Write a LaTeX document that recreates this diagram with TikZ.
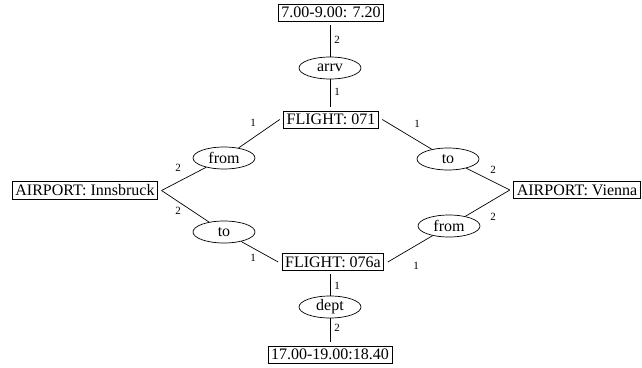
\documentclass[tikz,border=0pt]{standalone}
\usepackage{fontspec}
\setmainfont{Liberation Serif}
\usetikzlibrary{shapes.geometric}
\begin{document}
\begin{tikzpicture}[x=1pt,y=-1pt,
  every node/.style={font=\fontsize{16}{18}\selectfont},
  box/.style={draw,rectangle,line width=0.7pt,inner xsep=3pt,inner ysep=3pt,outer sep=4pt},
  rel/.style={draw,ellipse,line width=0.7pt,inner sep=0pt,minimum width=62pt,minimum height=22pt},
  conn/.style={line width=0.7pt},
  lbl/.style={font=\fontsize{11}{12}\selectfont,inner sep=0pt}]
\useasboundingbox (0,0) rectangle (642,367);
% concept boxes
\node[box] (t1) at (331,12.5) {7.00-9.00: 7.20};
\node[box] (f71) at (331,119.5) {FLIGHT: 071};
\node[box] (inn) at (85,190.5) {AIRPORT: Innsbruck};
\node[box] (vie) at (577,190) {AIRPORT: Vienna};
\node[box] (f76) at (333,262) {FLIGHT: 076a};
\node[box] (t2) at (330,354.5) {17.00-19.00:18.40};
% relation ellipses
\node[rel] (arrv) at (330,68) {arrv};
\node[rel] (fromL) at (224,158) {from};
\node[rel] (toL) at (224,232) {to};
\node[rel] (toR) at (448,159) {to};
\node[rel] (fromR) at (449,226) {from};
\node[rel] (dept) at (330,307) {dept};
% connectors
\draw[conn] (t1.south -| arrv.north) -- (arrv.north);
\draw[conn] (arrv.south) -- (arrv.south |- f71.north);
\draw[conn] (f71.west) -- (fromL);
\draw[conn] (fromL) -- (inn.east);
\draw[conn] (inn.east) -- (toL);
\draw[conn] (toL) -- (f76.west);
\draw[conn] (f71.east) -- (toR);
\draw[conn] (toR) -- (vie.west);
\draw[conn] (vie.west) -- (fromR);
\draw[conn] (fromR) -- (f76.east);
\draw[conn] (f76.south -| dept.north) -- (dept.north);
\draw[conn] (dept.south) -- (dept.south |- t2.north);
% labels
\node[lbl] (l1) at (337,40) {2};
\node[lbl] (l2) at (337,92) {1};
\node[lbl] (l3) at (253,123) {1};
\node[lbl] (l4) at (178,168) {2};
\node[lbl] (l5) at (178,211) {2};
\node[lbl] (l6) at (253,258) {1};
\node[lbl] (l7) at (417,124) {1};
\node[lbl] (l8) at (493,170) {2};
\node[lbl] (l9) at (493,217) {2};
\node[lbl] (l10) at (416,266) {1};
\node[lbl] (l11) at (337,286) {1};
\node[lbl] (l12) at (337,328) {2};
\end{tikzpicture}
\end{document}
